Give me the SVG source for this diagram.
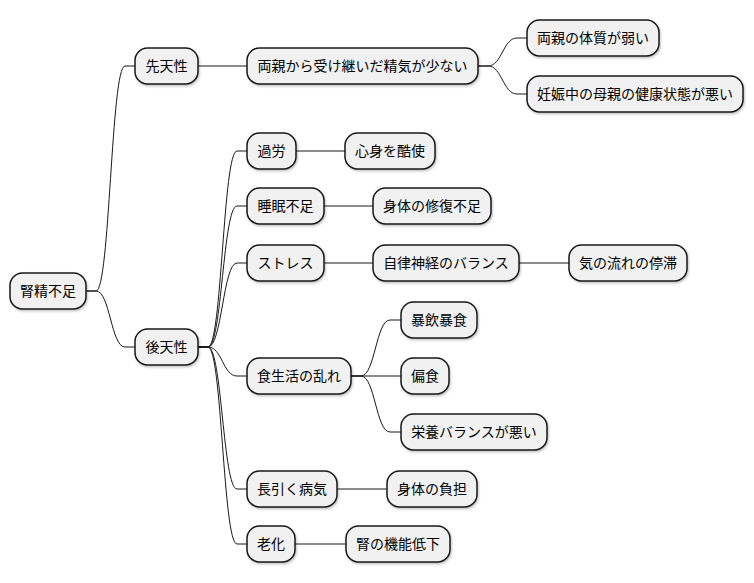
<svg xmlns="http://www.w3.org/2000/svg" width="754" height="583" viewBox="0 0 754 583">
<style>
.n rect{fill:#F1F1F1;stroke:#181818;stroke-width:1.5;filter:url(#sh)}
.n text{font-family:"Noto Sans CJK JP","Noto Sans",sans-serif;font-size:14px;fill:#000;text-anchor:middle}
.e path{fill:none;stroke:#181818;stroke-width:1}
</style>
<defs>
<filter id="sh" x="-10%" y="-20%" width="130%" height="160%">
<feDropShadow dx="1" dy="1.5" stdDeviation="1" flood-color="#000" flood-opacity="0.25"/>
</filter>
</defs>
<rect width="754" height="583" fill="#FFFFFF"/>
<g id="connectors" class="e">
<path d="M86,291 L96,291 C110,291 111,66 125,66 L135,66"/>
<path d="M86,291 L96,291 C110,291 111,347 125,347 L135,347"/>
<path d="M198,66 L247,66"/>
<path d="M478,66 L488,66 C502,66 503,38 517,38 L527,38"/>
<path d="M478,66 L488,66 C502,66 503,94 517,94 L527,94"/>
<path d="M198,347 L208,347 C222,347 223,151 237,151 L247,151"/>
<path d="M198,347 L208,347 C222,347 223,206 237,206 L247,206"/>
<path d="M198,347 L208,347 C222,347 223,263 237,263 L247,263"/>
<path d="M198,347 L208,347 C222,347 223,376 237,376 L247,376"/>
<path d="M198,347 L208,347 C222,347 223,489 237,489 L247,489"/>
<path d="M198,347 L208,347 C222,347 223,544 237,544 L247,544"/>
<path d="M296,151 L345,151"/>
<path d="M324,206 L373,206"/>
<path d="M324,263 L373,263"/>
<path d="M519,263 L569,263"/>
<path d="M351,376 L361,376 C375,376 376,320 390,320 L401,320"/>
<path d="M351,376 L401,376"/>
<path d="M351,376 L361,376 C375,376 376,432 390,432 L401,432"/>
<path d="M337,489 L387,489"/>
<path d="M295,544 L346,544"/>
</g>
<g id="n0" class="n"><rect x="10" y="273" width="76" height="36" rx="12.5"/><text x="48" y="296">腎精不足</text></g>
<g id="n1" class="n"><rect x="135" y="48" width="63" height="36" rx="12.5"/><text x="166.5" y="71">先天性</text></g>
<g id="n2" class="n"><rect x="247" y="48" width="231" height="36" rx="12.5"/><text x="362.5" y="71">両親から受け継いだ精気が少ない</text></g>
<g id="n3" class="n"><rect x="527" y="20" width="132" height="36" rx="12.5"/><text x="593" y="43">両親の体質が弱い</text></g>
<g id="n4" class="n"><rect x="527" y="76" width="216" height="36" rx="12.5"/><text x="635" y="99">妊娠中の母親の健康状態が悪い</text></g>
<g id="n5" class="n"><rect x="135" y="329" width="63" height="36" rx="12.5"/><text x="166.5" y="352">後天性</text></g>
<g id="n6" class="n"><rect x="247" y="133" width="49" height="36" rx="12.5"/><text x="271.5" y="156">過労</text></g>
<g id="n7" class="n"><rect x="345" y="133" width="90" height="36" rx="12.5"/><text x="390" y="156">心身を酷使</text></g>
<g id="n8" class="n"><rect x="247" y="188" width="77" height="36" rx="12.5"/><text x="285.5" y="211">睡眠不足</text></g>
<g id="n9" class="n"><rect x="373" y="188" width="118" height="36" rx="12.5"/><text x="432" y="211">身体の修復不足</text></g>
<g id="n10" class="n"><rect x="247" y="245" width="77" height="36" rx="12.5"/><text x="285.5" y="268">ストレス</text></g>
<g id="n11" class="n"><rect x="373" y="245" width="146" height="36" rx="12.5"/><text x="446" y="268">自律神経のバランス</text></g>
<g id="n12" class="n"><rect x="569" y="245" width="118" height="36" rx="12.5"/><text x="628" y="268">気の流れの停滞</text></g>
<g id="n13" class="n"><rect x="247" y="358" width="104" height="36" rx="12.5"/><text x="299" y="381">食生活の乱れ</text></g>
<g id="n14" class="n"><rect x="401" y="302" width="76" height="36" rx="12.5"/><text x="439" y="325">暴飲暴食</text></g>
<g id="n15" class="n"><rect x="401" y="358" width="48" height="36" rx="12.5"/><text x="425" y="381">偏食</text></g>
<g id="n16" class="n"><rect x="401" y="414" width="146" height="36" rx="12.5"/><text x="474" y="437">栄養バランスが悪い</text></g>
<g id="n17" class="n"><rect x="247" y="471" width="90" height="36" rx="12.5"/><text x="292" y="494">長引く病気</text></g>
<g id="n18" class="n"><rect x="387" y="471" width="90" height="36" rx="12.5"/><text x="432" y="494">身体の負担</text></g>
<g id="n19" class="n"><rect x="247" y="526" width="48" height="36" rx="12.5"/><text x="271" y="549">老化</text></g>
<g id="n20" class="n"><rect x="346" y="526" width="104" height="36" rx="12.5"/><text x="398" y="549">腎の機能低下</text></g>
</svg>
